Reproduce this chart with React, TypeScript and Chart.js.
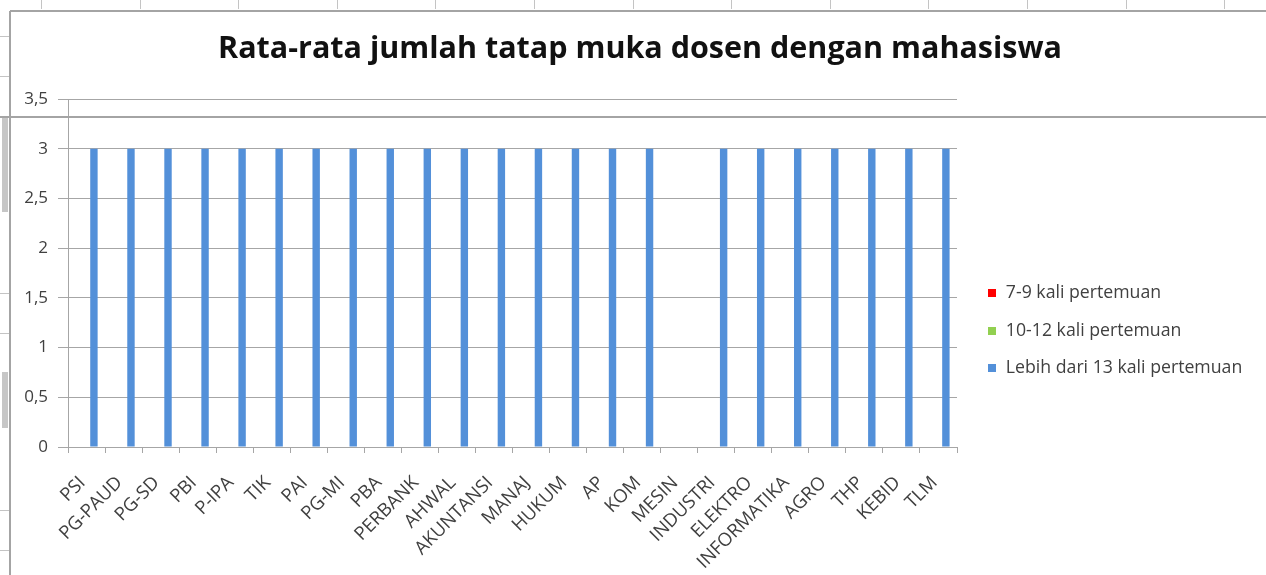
import React, { useEffect, useRef } from "react";
import { Chart, registerables } from "chart.js";

Chart.register(...registerables);

const chartTitle = "Rata-rata jumlah tatap muka dosen dengan mahasiswa";
const categories = [
  "PSI", "PG-PAUD", "PG-SD", "PBI", "P-IPA", "TIK", "PAI", "PG-MI", "PBA", "PERBANK",
  "AHWAL", "AKUNTANSI", "MANAJ", "HUKUM", "AP", "KOM", "MESIN", "INDUSTRI", "ELEKTRO",
  "INFORMATIKA", "AGRO", "THP", "KEBID", "TLM",
];
const seriesNames = ["7-9 kali pertemuan", "10-12 kali pertemuan", "Lebih dari 13 kali pertemuan"];
const kali7to9 = [0, 0, 0, 0, 0, 0, 0, 0, 0, 0, 0, 0, 0, 0, 0, 0, 0, 0, 0, 0, 0, 0, 0, 0];
const kali10to12 = [0, 0, 0, 0, 0, 0, 0, 0, 0, 0, 0, 0, 0, 0, 0, 0, 0, 0, 0, 0, 0, 0, 0, 0];
const lebih13 = [3, 3, 3, 3, 3, 3, 3, 3, 3, 3, 3, 3, 3, 3, 3, 3, null, 3, 3, 3, 3, 3, 3, 3];
const yTickLabels = ["0", "0,5", "1", "1,5", "2", "2,5", "3", "3,5"];
const yMax = 3.5;
const yStep = 0.5;

const seriesColors = ["#ff0000", "#92d050", "#5390d9"];

const FONT = "'Open Sans'";
const LEGEND_FONT_SIZE = 17.7;
const LEGEND_PAD = 20;
const SWATCH_W = 20;
const PLOT_LEFT = 68;
const PLOT_RIGHT = 957;
const PAD_LEFT = 10;
const TITLE_CENTER = 640;
const CANVAS_W = 1266;
const CANVAS_H = 575;

function makeSwatch(color: string) {
  const c = document.createElement("canvas");
  c.width = SWATCH_W;
  c.height = 8;
  const g = c.getContext("2d")!;
  g.fillStyle = color;
  g.fillRect(SWATCH_W - 9, 0, 8, 8);
  return c;
}

const sheetPlugin = {
  id: "sheet",
  afterLayout(chart: any) {
    // centre the title block where the reference has it
    const tb = chart.titleBlock;
    if (tb) {
      const d = TITLE_CENTER - (tb.left + tb.right) / 2;
      tb.left += d;
      tb.right += d;
    }
  },
  beforeDraw(chart: any) {
    const { ctx, width, height } = chart;
    ctx.save();
    ctx.fillStyle = "#ffffff";
    ctx.fillRect(0, 0, width, height);
    ctx.strokeStyle = "#c4c4c4";
    ctx.lineWidth = 1;
    for (let x = 41; x < width; x += 98.6) {
      ctx.beginPath();
      ctx.moveTo(Math.round(x) + 0.5, 0);
      ctx.lineTo(Math.round(x) + 0.5, 9);
      ctx.stroke();
    }
    [36, 76, 293, 333, 510, 550].forEach((y) => {
      ctx.beginPath();
      ctx.moveTo(0, y + 0.5);
      ctx.lineTo(9, y + 0.5);
      ctx.stroke();
    });
    ctx.fillStyle = "#c6c6c6";
    ctx.fillRect(2, 117, 6, 95);
    ctx.fillRect(2, 372, 6, 56);
    ctx.strokeStyle = "#a4a4a4";
    ctx.lineWidth = 2;
    ctx.beginPath();
    ctx.moveTo(10, 11);
    ctx.lineTo(width, 11);
    ctx.moveTo(10, 11);
    ctx.lineTo(10, height);
    ctx.stroke();
    ctx.restore();
  },
  afterDraw(chart: any) {
    const { ctx, width } = chart;
    ctx.save();
    ctx.strokeStyle = "#a4a4a4";
    ctx.lineWidth = 2;
    ctx.beginPath();
    ctx.moveTo(0, 117);
    ctx.lineTo(width, 117);
    ctx.stroke();
    ctx.restore();
  },
};

export default function App() {
  const canvasRef = useRef<HTMLCanvasElement | null>(null);

  useEffect(() => {
    if (!canvasRef.current) return;
    const swatches = seriesColors.map(makeSwatch);

    // measure widest legend text to place the plot's right edge
    const mctx = document.createElement("canvas").getContext("2d")!;
    mctx.font = `${LEGEND_FONT_SIZE}px ${FONT}`;
    const maxText = Math.max(...seriesNames.map((s) => mctx.measureText(s).width));
    const legendW = LEGEND_PAD + SWATCH_W + LEGEND_FONT_SIZE / 2 + maxText + 10;
    const padRight = Math.max(0, CANVAS_W - PLOT_RIGHT - legendW);

    const chart = new Chart(canvasRef.current, {
      type: "bar",
      data: {
        labels: categories,
        datasets: [
          { label: seriesNames[0], data: kali7to9, backgroundColor: seriesColors[0], borderWidth: 0 },
          { label: seriesNames[1], data: kali10to12, backgroundColor: seriesColors[1], borderWidth: 0 },
          { label: seriesNames[2], data: lebih13, backgroundColor: seriesColors[2], borderWidth: 0 },
        ],
      },
      options: {
        responsive: false,
        animation: false,
        events: [],
        datasets: { bar: { categoryPercentage: 0.6, barPercentage: 1 } },
        layout: { padding: { top: 10, left: PAD_LEFT, right: padRight, bottom: 0 } },
        plugins: {
          title: {
            display: true,
            text: chartTitle,
            color: "#111111",
            font: { family: FONT, size: 30.5, weight: "bold" },
            padding: { top: 21, bottom: 31.4 },
          },
          legend: {
            position: "right",
            align: "center",
            title: {
              display: true,
              text: " ",
              font: { family: FONT, size: 10 },
              padding: { top: 0, bottom: 64 },
            },
            labels: {
              usePointStyle: true,
              pointStyleWidth: SWATCH_W,
              boxHeight: 8,
              padding: LEGEND_PAD,
              color: "#404040",
              font: { family: FONT, size: LEGEND_FONT_SIZE },
              generateLabels: (ch: any) =>
                ch.data.datasets.map((ds: any, i: number) => ({
                  text: ds.label,
                  fillStyle: ds.backgroundColor,
                  strokeStyle: ds.backgroundColor,
                  lineWidth: 0,
                  pointStyle: swatches[i],
                  hidden: false,
                  datasetIndex: i,
                  fontColor: "#404040",
                })),
            },
          },
          tooltip: { enabled: false },
        },
        scales: {
          x: {
            grid: { display: true, drawOnChartArea: false, tickLength: 6, color: "#a6a6a6", offset: true },
            border: { display: true, color: "#a6a6a6", width: 1 },
            ticks: {
              autoSkip: false,
              maxRotation: 45,
              minRotation: 45,
              padding: 19,
              labelOffset: -4,
              color: "#404040",
              font: { family: FONT, size: 18.5 },
            },
            afterFit: (s: any) => {
              s.height = 128;
            },
          },
          y: {
            min: 0,
            max: yMax,
            ticks: {
              stepSize: yStep,
              padding: 10,
              color: "#404040",
              font: { family: FONT, size: 17 },
              callback: (_v: any, i: number) => yTickLabels[i],
            },
            grid: { color: "#a6a6a6", tickLength: 10 },
            border: { display: true, color: "#a6a6a6", width: 1 },
            afterFit: (s: any) => {
              s.width = PLOT_LEFT - PAD_LEFT;
            },
          },
        },
      },
      plugins: [sheetPlugin],
    } as any);
    return () => chart.destroy();
  }, []);

  return (
    <div style={{ position: "fixed", left: 0, top: 0, width: CANVAS_W, height: CANVAS_H, background: "#fff" }}>
      <canvas ref={canvasRef} width={CANVAS_W} height={CANVAS_H} style={{ display: "block" }} />
    </div>
  );
}
